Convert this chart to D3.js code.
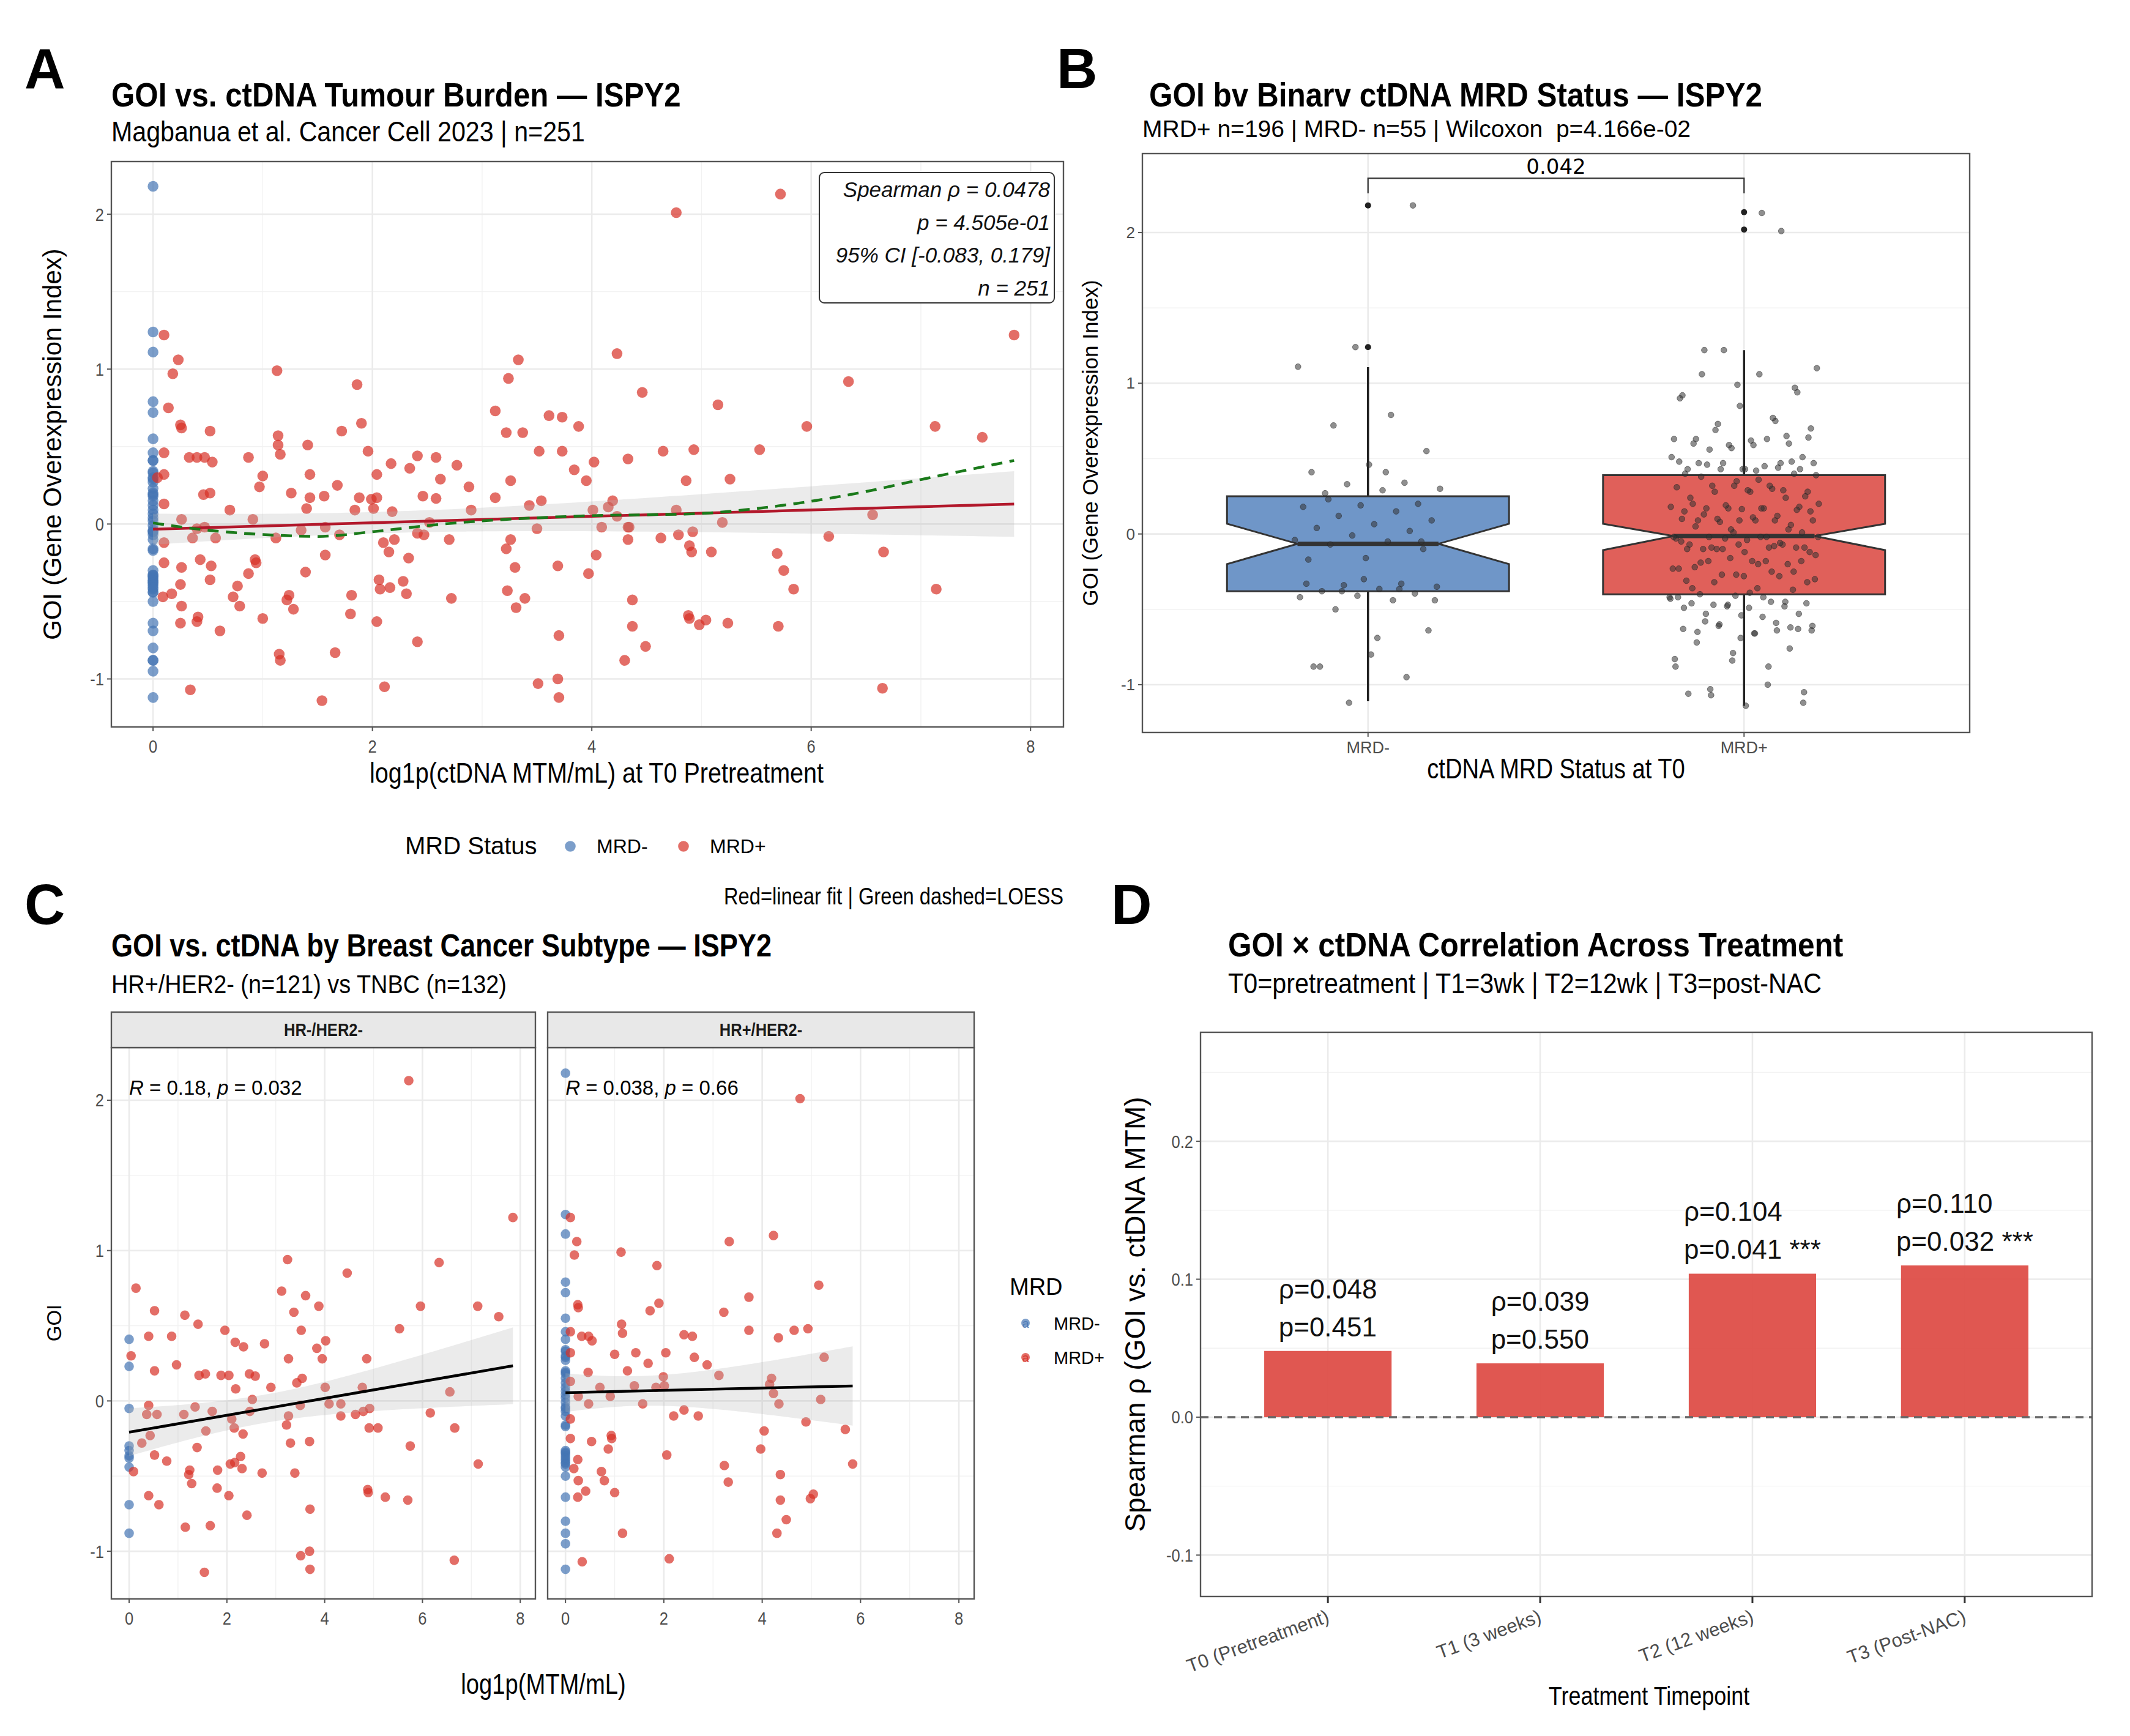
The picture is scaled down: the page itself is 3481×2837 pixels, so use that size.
<!DOCTYPE html>
<html>
<head>
<meta charset="utf-8">
<script src="https://cdn.jsdelivr.net/npm/d3@7"></script>
<style>body{margin:0;background:#fff}</style>
</head>
<body>
<svg id="fig"></svg>
<script>
// ---- data ----
// HR-/HER2- (TNBC) facet: MRD+ points [log1p(MTM/mL), GOI], MRD- GOI values (MTM = 0)
const hrNegMrdPos = [[5.72,2.13],[7.85,1.22],[3.24,0.94],[4.46,0.85],[6.34,0.92],[0.14,0.75],[3.12,0.73],[3.61,0.70],[3.37,0.59],[3.88,0.63],[0.52,0.60],[1.14,0.57],[5.96,0.63],[7.13,0.63],[7.56,0.56],[1.41,0.51],[0.40,0.43],[0.87,0.43],[1.96,0.47],[3.52,0.47],[2.17,0.39],[2.34,0.36],[2.77,0.38],[4.02,0.40],[3.84,0.35],[5.53,0.48],[0.04,0.30],[3.26,0.28],[3.95,0.28],[4.86,0.28],[0.52,0.20],[0.97,0.24],[1.43,0.17],[1.56,0.18],[1.88,0.17],[2.04,0.17],[2.46,0.18],[2.58,0.165],[3.54,0.15],[3.43,0.12],[2.18,0.08],[2.90,0.09],[4.01,0.09],[4.77,0.09],[6.56,0.06],[2.52,0.01],[0.40,-0.03],[0.36,-0.09],[0.57,-0.09],[1.12,-0.09],[1.35,-0.04],[1.70,-0.07],[2.47,-0.07],[3.50,-0.03],[4.09,-0.02],[4.33,-0.02],[4.33,-0.10],[4.63,-0.09],[4.79,-0.07],[4.92,-0.05],[6.16,-0.08],[3.26,-0.10],[2.10,-0.12],[2.15,-0.18],[2.33,-0.22],[1.57,-0.20],[3.22,-0.16],[0.43,-0.23],[4.91,-0.18],[5.09,-0.18],[6.66,-0.18],[0.26,-0.28],[1.39,-0.31],[3.30,-0.28],[3.69,-0.27],[5.75,-0.30],[0.52,-0.36],[0.77,-0.40],[2.28,-0.37],[2.16,-0.41],[2.07,-0.42],[2.31,-0.45],[0.09,-0.47],[1.24,-0.46],[1.22,-0.49],[1.81,-0.46],[2.72,-0.48],[3.39,-0.48],[7.14,-0.42],[1.28,-0.55],[1.80,-0.58],[0.40,-0.63],[0.61,-0.69],[2.04,-0.63],[4.88,-0.59],[4.89,-0.61],[5.24,-0.64],[5.70,-0.66],[3.70,-0.72],[2.41,-0.76],[1.15,-0.84],[1.66,-0.83],[3.69,-1.00],[3.51,-1.03],[3.70,-1.12],[1.54,-1.14],[6.65,-1.06]];
const hrNegMrdNeg = [0.41,0.23,-0.05,-0.30,-0.33,-0.365,-0.38,-0.44,-0.69,-0.88];
// HR+/HER2- facet
const hrPosMrdPos = [[4.77,2.01],[0.10,1.22],[4.23,1.10],[0.23,1.06],[3.33,1.06],[0.18,0.97],[1.13,0.99],[1.86,0.90],[5.15,0.77],[3.73,0.69],[0.25,0.64],[0.26,0.62],[1.72,0.60],[1.90,0.65],[3.22,0.59],[1.14,0.51],[1.16,0.45],[0.10,0.46],[0.33,0.43],[0.47,0.43],[0.54,0.40],[2.41,0.44],[2.58,0.43],[3.73,0.47],[4.33,0.42],[4.65,0.47],[4.93,0.48],[0.10,0.32],[1.00,0.31],[1.43,0.32],[2.04,0.32],[1.68,0.25],[2.62,0.29],[2.88,0.24],[5.26,0.29],[0.46,0.19],[1.26,0.20],[3.12,0.17],[0.10,0.13],[1.99,0.16],[0.70,0.09],[1.40,0.10],[1.84,0.09],[2.01,0.10],[4.19,0.15],[4.15,0.11],[4.23,0.05],[0.26,0.03],[0.91,0.03],[0.47,-0.02],[1.57,-0.02],[4.34,-0.02],[5.19,0.01],[0.10,-0.12],[2.20,-0.10],[2.41,-0.06],[2.70,-0.10],[4.89,-0.14],[4.04,-0.20],[5.69,-0.19],[0.10,-0.25],[0.53,-0.27],[0.93,-0.23],[0.94,-0.25],[0.87,-0.32],[3.97,-0.32],[0.25,-0.39],[2.06,-0.36],[0.17,-0.45],[0.73,-0.47],[3.23,-0.43],[5.84,-0.42],[0.26,-0.53],[0.79,-0.53],[3.31,-0.54],[4.37,-0.49],[0.25,-0.64],[0.41,-0.60],[1.00,-0.61],[4.37,-0.66],[4.98,-0.65],[5.04,-0.62],[4.49,-0.79],[1.16,-0.88],[4.30,-0.88],[0.34,-1.07],[2.11,-1.05]];
const hrPosMrdNeg = [2.18,1.24,1.11,0.79,0.72,0.55,0.46,0.41,0.34,0.33,0.30,0.29,0.27,0.20,0.19,0.18,0.15,0.12,0.09,0.065,0.04,0.02,-0.01,-0.04,-0.05,-0.07,-0.10,-0.16,-0.17,-0.33,-0.34,-0.35,-0.365,-0.38,-0.395,-0.41,-0.42,-0.44,-0.50,-0.64,-0.80,-0.88,-0.95,-1.12];

// LOESS curve of panel A
const loessX = [0,0.5,1,1.5,2,2.5,3,3.5,4,4.5,5,5.5,6,6.5,7,7.5,7.85];
const loessY = [0.007,-0.04,-0.068,-0.08,-0.05,-0.01,0.02,0.04,0.054,0.06,0.068,0.10,0.147,0.21,0.287,0.36,0.41];

// panel B notched boxplots
const boxGroups = ['MRD-', 'MRD+'];
const boxLo = [-1.11, -1.14];
const boxQ1 = [-0.38, -0.40];
const boxNotchLo = [-0.20, -0.107];
const boxMedian = [-0.065, -0.014];
const boxNotchHi = [0.068, 0.068];
const boxQ3 = [0.25, 0.39];
const boxHi = [1.107, 1.22];
const boxOutliers = [[2.18, 1.24], [2.135, 2.02]];

// panel D
const timepoints = ['T0 (Pretreatment)', 'T1 (3 weeks)', 'T2 (12 weeks)', 'T3 (Post-NAC)'];
const rhoValues = [0.048, 0.039, 0.104, 0.110];
const pLabels = ['0.451', '0.550', '0.041', '0.032'];
const sigStars = ['', '', ' ***', ' ***'];

// ---- set up ----
const W = 3481, H = 2837;
const SANS = "'Liberation Sans',Arial,sans-serif";
const RED = '#D73027', BLUE = '#4575B4';
const TICK = '#4D4D4D';

const svg = d3.select('#fig').attr('width', W).attr('height', H);
svg.append('rect').attr('width', W).attr('height', H).attr('fill', '#fff');

// text helper; o.sx squeezes the glyphs horizontally (condensed look)
function text(g, x, y, s, size, o = {}) {
  const t = g.append('text')
    .attr('font-family', o.family || SANS)
    .attr('font-size', size)
    .attr('font-weight', o.weight || 'normal')
    .attr('font-style', o.style || 'normal')
    .attr('fill', o.fill || '#000')
    .attr('text-anchor', o.anchor || 'start')
    .text(s);
  if (o.sx) t.attr('transform', `translate(${x},${y}) scale(${o.sx},1)`);
  else t.attr('x', x).attr('y', y);
  return t;
}

function yTitle(g, x, y, s, size) {
  text(g, 0, 0, s, size, { anchor: 'middle' })
    .attr('transform', `translate(${x},${y}) rotate(-90)`);
}

// theme_bw-like panel: background, grid
function frame(g, xs, ys, o) {
  const [x0, x1] = o.xr, [y0, y1] = o.yr;
  g.append('rect').attr('x', x0).attr('y', y0).attr('width', x1 - x0).attr('height', y1 - y0).attr('fill', '#fff');
  (o.xMinor || []).forEach(v => g.append('line').attr('x1', xs(v)).attr('x2', xs(v)).attr('y1', y0).attr('y2', y1).attr('stroke', '#F2F2F2').attr('stroke-width', 1.4));
  (o.yMinor || []).forEach(v => g.append('line').attr('y1', ys(v)).attr('y2', ys(v)).attr('x1', x0).attr('x2', x1).attr('stroke', '#F2F2F2').attr('stroke-width', 1.4));
  o.xMajor.forEach(v => g.append('line').attr('x1', xs(v)).attr('x2', xs(v)).attr('y1', y0).attr('y2', y1).attr('stroke', '#EBEBEB').attr('stroke-width', 2.6));
  o.yMajor.forEach(v => g.append('line').attr('y1', ys(v)).attr('y2', ys(v)).attr('x1', x0).attr('x2', x1).attr('stroke', '#EBEBEB').attr('stroke-width', 2.6));
}
function border(g, o) {
  const [x0, x1] = o.xr, [y0, y1] = o.yr;
  g.append('rect').attr('x', x0).attr('y', y0).attr('width', x1 - x0).attr('height', y1 - y0)
    .attr('fill', 'none').attr('stroke', '#555').attr('stroke-width', 2.4);
}
function yAxisLabels(g, ys, vals, x0, size, fmt, sx) {
  vals.forEach(v => {
    g.append('line').attr('x1', x0 - 7).attr('x2', x0).attr('y1', ys(v)).attr('y2', ys(v)).attr('stroke', '#555').attr('stroke-width', 2);
    text(g, x0 - 12, ys(v) + size * 0.35, fmt(v), size, { anchor: 'end', fill: TICK, sx });
  });
}
function xAxisLabels(g, xs, vals, y1, size, baseline, fmt, sx) {
  vals.forEach(v => {
    g.append('line').attr('x1', xs(v)).attr('x2', xs(v)).attr('y1', y1).attr('y2', y1 + 7).attr('stroke', '#555').attr('stroke-width', 2);
    text(g, xs(v), baseline, fmt(v), size, { anchor: 'middle', fill: TICK, sx });
  });
}

function lm(pts) {
  const n = pts.length;
  const xbar = d3.mean(pts, d => d[0]), ybar = d3.mean(pts, d => d[1]);
  const sxx = d3.sum(pts, d => (d[0] - xbar) ** 2);
  const sxy = d3.sum(pts, d => (d[0] - xbar) * (d[1] - ybar));
  const b = sxy / sxx, a = ybar - b * xbar;
  const s = Math.sqrt(d3.sum(pts, d => (d[1] - a - b * d[0]) ** 2) / (n - 2));
  const se = x => s * Math.sqrt(1 / n + (x - xbar) ** 2 / sxx);
  const [lo, hi] = d3.extent(pts, d => d[0]);
  return { a, b, se, lo, hi };
}
function drawFit(g, xs, ys, fit, color, width) {
  const xsamp = d3.range(81).map(i => fit.lo + (fit.hi - fit.lo) * i / 80);
  g.append('path').datum(xsamp)
    .attr('d', d3.area().x(x => xs(x))
      .y0(x => ys(fit.a + fit.b * x - 1.97 * fit.se(x)))
      .y1(x => ys(fit.a + fit.b * x + 1.97 * fit.se(x))))
    .attr('fill', '#B8B8B8').attr('opacity', 0.28);
  g.append('line')
    .attr('x1', xs(fit.lo)).attr('y1', ys(fit.a + fit.b * fit.lo))
    .attr('x2', xs(fit.hi)).attr('y2', ys(fit.a + fit.b * fit.hi))
    .attr('stroke', color).attr('stroke-width', width);
}

const negPts = v => v.map(y => [0, y]);
const allRed = hrNegMrdPos.concat(hrPosMrdPos);
const allBlue = hrNegMrdNeg.concat(hrPosMrdNeg);
const allPts = negPts(allBlue).concat(allRed);

// ================= Panel A =================
{
  const g = svg.append('g');
  const o = { xr: [182, 1738], yr: [264, 1188] };
  const xs = d3.scaleLinear().domain([-0.38, 8.3]).range(o.xr);
  const ys = d3.scaleLinear().domain([-1.31, 2.34]).range([o.yr[1], o.yr[0]]);
  text(g, 40, 144, 'A', 92, { weight: 'bold' });
  text(g, 182, 174, 'GOI vs. ctDNA Tumour Burden \u2014 ISPY2', 56, { weight: 'bold', sx: 0.88 });
  text(g, 182, 231, 'Magbanua et al. Cancer Cell 2023 | n=251', 46, { sx: 0.895 });
  frame(g, xs, ys, { ...o, xMajor: [0, 2, 4, 6, 8], xMinor: [1, 3, 5, 7], yMajor: [-1, 0, 1, 2], yMinor: [-0.5, 0.5, 1.5] });

  g.append('g').selectAll('circle').data(negPts(allBlue)).join('circle')
    .attr('cx', d => xs(d[0])).attr('cy', d => ys(d[1])).attr('r', 8.8)
    .attr('fill', BLUE).attr('opacity', 0.7);
  g.append('g').selectAll('circle').data(allRed).join('circle')
    .attr('cx', d => xs(d[0])).attr('cy', d => ys(d[1])).attr('r', 8.8)
    .attr('fill', RED).attr('opacity', 0.7);

  drawFit(g, xs, ys, lm(allPts), '#B2182B', 4.5);
  g.append('path').datum(d3.zip(loessX, loessY))
    .attr('d', d3.line().x(d => xs(d[0])).y(d => ys(d[1])).curve(d3.curveMonotoneX))
    .attr('fill', 'none').attr('stroke', '#1A7A1A').attr('stroke-width', 4.5).attr('stroke-dasharray', '18,12');

  border(g, o);
  yAxisLabels(g, ys, [-1, 0, 1, 2], 182, 30, d => d, 0.85);
  xAxisLabels(g, xs, [0, 2, 4, 6, 8], 1188, 30, 1230, d => d, 0.85);
  text(g, 975, 1279, 'log1p(ctDNA MTM/mL) at T0 Pretreatment', 46, { anchor: 'middle', sx: 0.86 });
  yTitle(g, 100, 726, 'GOI (Gene Overexpression Index)', 42);

  // stats box
  g.append('rect').attr('x', 1339).attr('y', 282).attr('width', 384).attr('height', 213).attr('rx', 8)
    .attr('fill', '#fff').attr('stroke', '#333').attr('stroke-width', 2);
  ['Spearman \u03c1 = 0.0478', 'p = 4.505e-01', '95% CI [-0.083, 0.179]', 'n = 251'].forEach((s, i) =>
    text(g, 1716, 322 + i * 53.5, s, 35, { anchor: 'end', style: 'italic', fill: '#111' }));

  // legend
  text(g, 662, 1396, 'MRD Status', 40);
  g.append('circle').attr('cx', 932).attr('cy', 1383).attr('r', 8.8).attr('fill', BLUE).attr('opacity', 0.7);
  text(g, 975, 1394, 'MRD-', 32);
  g.append('circle').attr('cx', 1117).attr('cy', 1383).attr('r', 8.8).attr('fill', RED).attr('opacity', 0.7);
  text(g, 1160, 1394, 'MRD+', 32);
  text(g, 1738, 1478, 'Red=linear fit | Green dashed=LOESS', 38, { anchor: 'end', sx: 0.86 });
}

// ================= Panel B =================
{
  const g = svg.append('g');
  const o = { xr: [1867, 3219], yr: [251, 1197] };
  const xs = d3.scalePoint().domain(boxGroups).range(o.xr).padding(0.6);
  const ys = d3.scaleLinear().domain([-1.317, 2.524]).range([o.yr[1], o.yr[0]]);
  const step = xs.step();
  text(g, 1727, 144, 'B', 92, { weight: 'bold' });
  text(g, 1878, 174, 'GOI bv Binarv ctDNA MRD Status \u2014 ISPY2', 56, { weight: 'bold', sx: 0.884 });
  text(g, 1867, 224, 'MRD+ n=196 | MRD- n=55 | Wilcoxon\u00a0 p=4.166e-02', 39);
  frame(g, xs, ys, { ...o, xMajor: boxGroups, yMajor: [-1, 0, 1, 2], yMinor: [-0.5, 0.5, 1.5] });

  const fills = ['#6F96C8', '#E0605A'];
  boxGroups.forEach((grp, i) => {
    const cx = xs(grp), hw = step * 0.375, nw = hw * 0.5;
    g.append('line').attr('x1', cx).attr('x2', cx).attr('y1', ys(boxHi[i])).attr('y2', ys(boxQ3[i])).attr('stroke', '#222').attr('stroke-width', 3.5);
    g.append('line').attr('x1', cx).attr('x2', cx).attr('y1', ys(boxQ1[i])).attr('y2', ys(boxLo[i])).attr('stroke', '#222').attr('stroke-width', 3.5);
    const poly = [
      [cx - hw, ys(boxQ3[i])], [cx + hw, ys(boxQ3[i])], [cx + hw, ys(boxNotchHi[i])],
      [cx + nw, ys(boxMedian[i])], [cx + hw, ys(boxNotchLo[i])], [cx + hw, ys(boxQ1[i])],
      [cx - hw, ys(boxQ1[i])], [cx - hw, ys(boxNotchLo[i])], [cx - nw, ys(boxMedian[i])],
      [cx - hw, ys(boxNotchHi[i])]
    ];
    g.append('polygon').attr('points', poly.map(p => p.join(',')).join(' '))
      .attr('fill', fills[i]).attr('stroke', '#333').attr('stroke-width', 3);
    g.append('line').attr('x1', cx - nw).attr('x2', cx + nw).attr('y1', ys(boxMedian[i])).attr('y2', ys(boxMedian[i]))
      .attr('stroke', '#333').attr('stroke-width', 7);
    g.append('g').selectAll('circle').data(boxOutliers[i]).join('circle')
      .attr('cx', cx).attr('cy', d => ys(d)).attr('r', 5).attr('fill', '#222');
  });

  // jittered points (fixed, evenly spread offsets in place of random jitter)
  const groupVals = [allBlue, allRed.map(d => d[1])];
  groupVals.forEach((vals, i) => {
    const cx = xs(boxGroups[i]);
    g.append('g').selectAll('circle').data(vals).join('circle')
      .attr('cx', (d, j) => cx + ((((j + 1) * 0.6180339887) % 1) * 0.4 - 0.2) * step)
      .attr('cy', d => ys(d)).attr('r', 4.8)
      .attr('fill', '#333').attr('fill-opacity', 0.55).attr('stroke', '#222').attr('stroke-opacity', 0.5).attr('stroke-width', 1);
  });

  // significance bracket
  const by = ys(2.36), bt = ys(2.26);
  g.append('path').attr('d', `M${xs('MRD-')},${bt}V${by}H${xs('MRD+')}V${bt}`)
    .attr('fill', 'none').attr('stroke', '#333').attr('stroke-width', 2.2);
  text(g, (xs('MRD-') + xs('MRD+')) / 2, by - 7, '0.042', 34, { anchor: 'middle', family: "'DejaVu Sans',sans-serif" });

  border(g, o);
  yAxisLabels(g, ys, [-1, 0, 1, 2], 1867, 26, d => d);
  boxGroups.forEach(grp => {
    g.append('line').attr('x1', xs(grp)).attr('x2', xs(grp)).attr('y1', 1197).attr('y2', 1204).attr('stroke', '#555').attr('stroke-width', 2);
    text(g, xs(grp), 1231, grp, 27, { anchor: 'middle', fill: TICK });
  });
  text(g, 2543, 1272, 'ctDNA MRD Status at T0', 46, { anchor: 'middle', sx: 0.83 });
  yTitle(g, 1794, 724, 'GOI (Gene Overexpression Index)', 35);
}

// ================= Panel C =================
{
  const g = svg.append('g');
  text(g, 40, 1510, 'C', 92, { weight: 'bold' });
  text(g, 182, 1563, 'GOI vs. ctDNA by Breast Cancer Subtype \u2014 ISPY2', 51, { weight: 'bold', sx: 0.885 });
  text(g, 182, 1623, 'HR+/HER2- (n=121) vs TNBC (n=132)', 43, { sx: 0.88 });
  const ys = d3.scaleLinear().domain([-1.317, 2.35]).range([2613, 1712]);
  const facets = [
    { name: 'HR-/HER2-', xr: [182, 875], pos: hrNegMrdPos, neg: hrNegMrdNeg, lab: ['0.18', '0.032'] },
    { name: 'HR+/HER2-', xr: [895, 1592], pos: hrPosMrdPos, neg: hrPosMrdNeg, lab: ['0.038', '0.66'] }
  ];
  facets.forEach((f, k) => {
    const o = { xr: f.xr, yr: [1712, 2613] };
    const xs = d3.scaleLinear().domain([-0.363, 8.31]).range(f.xr);
    frame(g, xs, ys, { ...o, xMajor: [0, 2, 4, 6, 8], xMinor: [1, 3, 5, 7], yMajor: [-1, 0, 1, 2], yMinor: [-0.5, 0.5, 1.5] });
    g.append('g').selectAll('circle').data(negPts(f.neg)).join('circle')
      .attr('cx', d => xs(d[0])).attr('cy', d => ys(d[1])).attr('r', 7.8).attr('fill', BLUE).attr('opacity', 0.7);
    g.append('g').selectAll('circle').data(f.pos).join('circle')
      .attr('cx', d => xs(d[0])).attr('cy', d => ys(d[1])).attr('r', 7.8).attr('fill', RED).attr('opacity', 0.7);
    drawFit(g, xs, ys, lm(negPts(f.neg).concat(f.pos)), '#000', 4.5);
    const t = text(g, xs(0), 1789, '', 33);
    t.append('tspan').attr('font-style', 'italic').text('R');
    t.append('tspan').text(` = ${f.lab[0]}, `);
    t.append('tspan').attr('font-style', 'italic').text('p');
    t.append('tspan').text(` = ${f.lab[1]}`);
    border(g, o);
    // strip
    g.append('rect').attr('x', f.xr[0]).attr('y', 1654).attr('width', f.xr[1] - f.xr[0]).attr('height', 58)
      .attr('fill', '#E8E8E8').attr('stroke', '#555').attr('stroke-width', 2.4);
    text(g, (f.xr[0] + f.xr[1]) / 2, 1693, f.name, 29, { anchor: 'middle', weight: 'bold', fill: '#1A1A1A', sx: 0.88 });
    xAxisLabels(g, xs, [0, 2, 4, 6, 8], 2613, 30, 2655, d => d, 0.85);
    if (k === 0) yAxisLabels(g, ys, [-1, 0, 1, 2], 182, 30, d => d, 0.85);
  });
  text(g, 888, 2768, 'log1p(MTM/mL)', 46, { anchor: 'middle', sx: 0.83 });
  yTitle(g, 100, 2162, 'GOI', 33);
  // legend
  text(g, 1650, 2116, 'MRD', 38);
  [[BLUE, 'MRD-', 2162], [RED, 'MRD+', 2218]].forEach(([c, s, y]) => {
    g.append('circle').attr('cx', 1676).attr('cy', y).attr('r', 7).attr('fill', c).attr('opacity', 0.7);
    text(g, 1676, y + 8, 'a', 20, { anchor: 'middle', fill: c }).attr('opacity', 0.8);
    text(g, 1722, y + 11, s, 29);
  });
}

// ================= Panel D =================
{
  const g = svg.append('g');
  const o = { xr: [1962, 3419], yr: [1687, 2609] };
  const xs = d3.scalePoint().domain(timepoints).range(o.xr).padding(0.6);
  const ys = d3.scaleLinear().domain([-0.130, 0.279]).range([o.yr[1], o.yr[0]]);
  const step = xs.step();
  text(g, 1816, 1510, 'D', 92, { weight: 'bold' });
  text(g, 2007, 1563, 'GOI \u00d7 ctDNA Correlation Across Treatment', 56, { weight: 'bold', sx: 0.885 });
  text(g, 2007, 1623, 'T0=pretreatment | T1=3wk | T2=12wk | T3=post-NAC', 46, { sx: 0.897 });
  frame(g, xs, ys, { ...o, xMajor: timepoints, yMajor: [-0.1, 0, 0.1, 0.2], yMinor: [-0.05, 0.05, 0.15, 0.25] });

  g.append('g').selectAll('rect').data(rhoValues).join('rect')
    .attr('x', (d, i) => xs(timepoints[i]) - step * 0.3).attr('width', step * 0.6)
    .attr('y', d => ys(Math.max(0, d))).attr('height', d => Math.abs(ys(d) - ys(0)))
    .attr('fill', '#DE4A44').attr('opacity', 0.93);
  g.append('line').attr('x1', o.xr[0]).attr('x2', o.xr[1]).attr('y1', ys(0)).attr('y2', ys(0))
    .attr('stroke', '#666').attr('stroke-width', 3.5).attr('stroke-dasharray', '13,9');

  rhoValues.forEach((v, i) => {
    const cx = xs(timepoints[i]), top = ys(v);
    const l1 = text(g, 0, top - 86, `\u03c1=${v.toFixed(3)}`, 44, { fill: '#111' });
    const l2 = text(g, 0, top - 24, `p=${pLabels[i]}${sigStars[i]}`, 44, { fill: '#111' });
    const w = Math.max(l1.node().getComputedTextLength(), l2.node().getComputedTextLength());
    l1.attr('x', cx - w / 2); l2.attr('x', cx - w / 2);
  });

  border(g, o);
  yAxisLabels(g, ys, [-0.1, 0, 0.1, 0.2], 1962, 30, d => d.toFixed(1), 0.85);
  timepoints.forEach(t => {
    g.append('line').attr('x1', xs(t)).attr('x2', xs(t)).attr('y1', 2609).attr('y2', 2620).attr('stroke', '#333').attr('stroke-width', 3);
    text(g, 0, 0, t, 31, { anchor: 'end', fill: TICK })
      .attr('transform', `translate(${xs(t) + 4},${2650}) rotate(-20)`);
  });
  text(g, 2695, 2786, 'Treatment Timepoint', 43, { anchor: 'middle', sx: 0.836 });
  yTitle(g, 1871, 2148, 'Spearman \u03c1 (GOI vs. ctDNA MTM)', 46);
}
</script>
</body>
</html>
